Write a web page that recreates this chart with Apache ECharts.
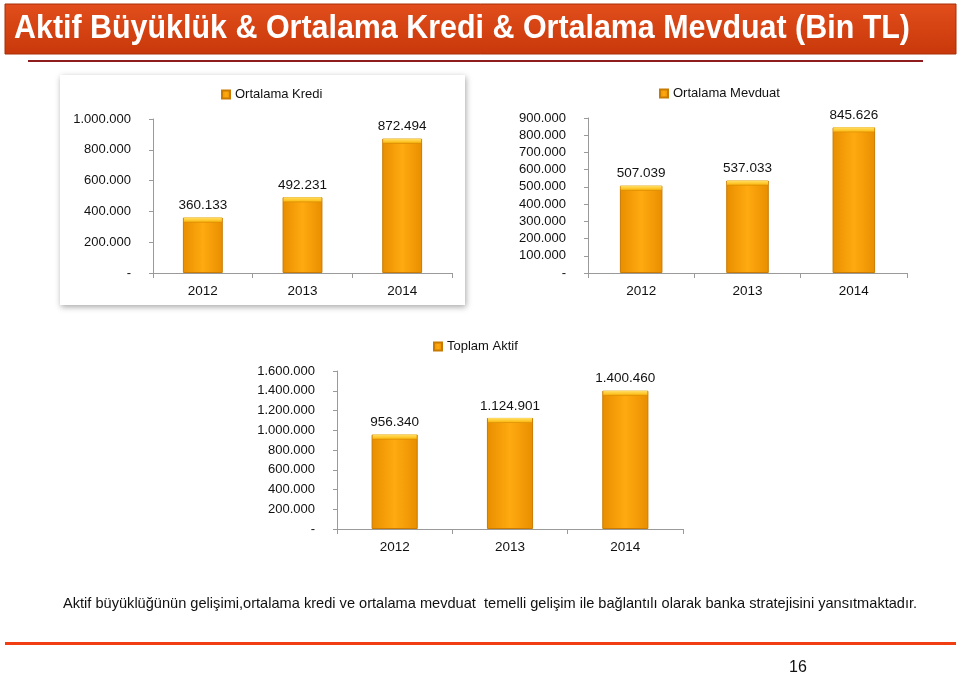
<!DOCTYPE html>
<html>
<head>
<meta charset="utf-8">
<script src="https://cdn.jsdelivr.net/npm/echarts@6/dist/echarts.min.js"></script>
<style>
  html, body { margin: 0; padding: 0; background: #fff; }
  #chart { width: 960px; height: 673px; }
</style>
</head>
<body>
<div id="chart"></div>
<script>
// veriler (Bin TL)
var years = ['2012', '2013', '2014'];
var krediValues = [360133, 492231, 872494];
var mevduatValues = [507039, 537033, 845626];
var aktifValues = [956340, 1124901, 1400460];

var pageTitle = 'Aktif Büyüklük & Ortalama Kredi & Ortalama Mevduat (Bin TL)';
var footNote = 'Aktif büyüklüğünün gelişimi,ortalama kredi ve ortalama mevduat  temelli gelişim ile bağlantılı olarak banka stratejisini yansıtmaktadır.';
var pageNo = '16';

var FONT = 'Liberation Sans, Arial, sans-serif';

// 1.234.567 biçimi
function fmt(v) {
    if (v === 0) return '-';
    return String(v).replace(/\B(?=(\d{3})+(?!\d))/g, '.');
}

// başlık dar font yok, yatayda sıkıştır
var titleFont = 'bold 34px Liberation Sans, Arial';
var ctx = document.createElement('canvas').getContext('2d');
ctx.font = titleFont;
var titleScale = 896 / ctx.measureText(pageTitle).width;

var grids = [
    { left: 153, top: 119, width: 299, height: 154 },
    { left: 588, top: 118, width: 319, height: 155 },
    { left: 337, top: 371, width: 346, height: 158 }
];

var barColor = new echarts.graphic.LinearGradient(0, 0, 1, 0, [
    { offset: 0, color: '#E88E00' },
    { offset: 0.5, color: '#FFAA10' },
    { offset: 1, color: '#E88E00' }
]);
var capColor = new echarts.graphic.LinearGradient(0, 0, 0, 1, [
    { offset: 0, color: '#FFE06A' },
    { offset: 0.7, color: '#FFC21E' },
    { offset: 1, color: '#D98A00' }
]);

function yAxis(idx, max, interval) {
    return {
        gridIndex: idx, type: 'value', min: 0, max: max, interval: interval,
        axisLine: { show: true, lineStyle: { color: '#9a9a9a' } },
        axisTick: { show: true, length: 4, lineStyle: { color: '#9a9a9a' } },
        splitLine: { show: false },
        axisLabel: { formatter: fmt, color: '#111', fontSize: 13, fontFamily: FONT, margin: 22 }
    };
}
function xAxis(idx) {
    return {
        gridIndex: idx, type: 'category', data: years,
        axisLine: { lineStyle: { color: '#9a9a9a' } },
        axisTick: { show: true, length: 5, lineStyle: { color: '#9a9a9a' } },
        axisLabel: { color: '#111', fontSize: 13.5, fontFamily: FONT, margin: 11 }
    };
}
function barSeries(name, idx, data) {
    var capW = Math.round(grids[idx].width / years.length * 0.4) - 2;
    return [{
        name: name, type: 'bar', xAxisIndex: idx, yAxisIndex: idx,
        data: data, barWidth: '40%',
        itemStyle: { color: barColor, borderColor: '#C97A00', borderWidth: 1 },
        label: {
            show: true, position: 'top', distance: 5, formatter: function (p) { return fmt(p.value); },
            color: '#111', fontSize: 13.5, fontFamily: FONT
        }
    }, {
        // üst kenardaki sarı şerit
        name: name, type: 'pictorialBar', xAxisIndex: idx, yAxisIndex: idx,
        data: data, symbol: 'rect', symbolSize: [capW, 5], symbolPosition: 'end',
        symbolOffset: [0, 0], z: 3, silent: true,
        itemStyle: { color: capColor }
    }];
}
function legend(name, left, top) {
    return {
        data: [name], left: left, top: top, icon: 'rect', itemWidth: 8, itemHeight: 8, itemGap: 4,
        textStyle: { color: '#111', fontSize: 13, fontFamily: FONT }
    };
}

var chart = echarts.init(document.getElementById('chart'));
var option = {
    backgroundColor: '#fff',
    animation: false,
    graphic: [
        // başlık bandı
        {
            type: 'rect', shape: { x: 5, y: 4, width: 951, height: 50 },
            style: {
                fill: new echarts.graphic.LinearGradient(0, 0, 0, 1, [
                    { offset: 0, color: '#E24E1C' },
                    { offset: 1, color: '#C8380A' }
                ]),
                stroke: '#A82E08', lineWidth: 1
            }
        },
        {
            type: 'text', x: 14, y: 29, scaleX: titleScale,
            style: { text: pageTitle, fill: '#fff', font: titleFont, verticalAlign: 'middle' }
        },
        { type: 'rect', shape: { x: 28, y: 60, width: 895, height: 2 }, style: { fill: '#8E1C1C' } },
        // ilk grafik paneli
        {
            type: 'rect', shape: { x: 60, y: 75, width: 405, height: 230 }, z: -1,
            style: { fill: '#fff', shadowBlur: 6, shadowColor: 'rgba(0,0,0,0.35)', shadowOffsetX: 1, shadowOffsetY: 2 }
        },
        {
            type: 'text', left: 63, top: 596,
            style: { text: footNote, fill: '#111', fontSize: 14.6, fontFamily: FONT }
        },
        { type: 'rect', shape: { x: 5, y: 642, width: 951, height: 3 }, style: { fill: '#F03E12' } },
        {
            type: 'text', left: 789, top: 660,
            style: { text: pageNo, fill: '#111', fontSize: 16, fontFamily: FONT }
        }
    ],
    legend: [
        legend('Ortalama Kredi', 216, 83),
        legend('Ortalama Mevduat', 654, 82),
        legend('Toplam Aktif', 428, 335)
    ],
    grid: grids,
    xAxis: [xAxis(0), xAxis(1), xAxis(2)],
    yAxis: [
        yAxis(0, 1000000, 200000),
        yAxis(1, 900000, 100000),
        yAxis(2, 1600000, 200000)
    ],
    series: [].concat(
        barSeries('Ortalama Kredi', 0, krediValues),
        barSeries('Ortalama Mevduat', 1, mevduatValues),
        barSeries('Toplam Aktif', 2, aktifValues)
    )
};
chart.setOption(option);
</script>
</body>
</html>
